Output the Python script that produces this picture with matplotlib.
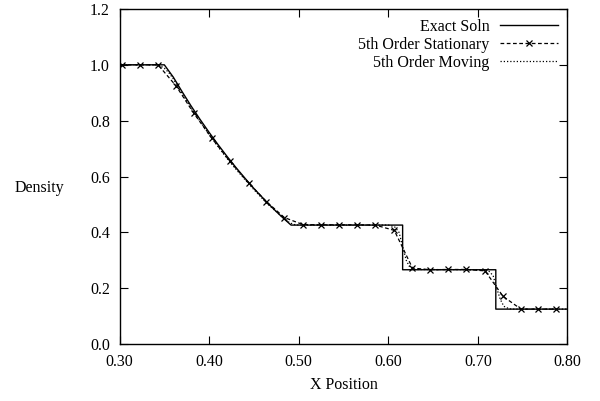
import matplotlib
matplotlib.use("Agg")
import matplotlib.pyplot as plt

plt.rcParams['font.family'] = ['Liberation Serif', 'DejaVu Serif']

# exact Riemann solution
exact_x = [0.30, 0.350, 0.36, 0.37, 0.38, 0.39, 0.40, 0.41, 0.42, 0.43, 0.44,
           0.45, 0.46, 0.47, 0.48, 0.49, 0.4915, 0.616, 0.616, 0.720, 0.720, 0.80]
exact_rho = [1.0, 1.0, 0.956, 0.903, 0.852, 0.804, 0.758, 0.714, 0.672, 0.632,
             0.594, 0.557, 0.523, 0.490, 0.459, 0.430, 0.426, 0.426, 0.266,
             0.266, 0.125, 0.125]

# 5th order stationary grid (points with markers)
stat_x = [0.3025, 0.3225, 0.343, 0.363, 0.383, 0.403, 0.423, 0.444, 0.464,
          0.484, 0.5045, 0.5246, 0.5447, 0.5651, 0.5855, 0.6067, 0.627, 0.647,
          0.667, 0.687, 0.708, 0.728, 0.748, 0.7675, 0.787]
stat_rho = [1.0, 1.0, 1.0, 0.925, 0.826, 0.737, 0.655, 0.577, 0.510, 0.453,
            0.428, 0.427, 0.427, 0.427, 0.426, 0.407, 0.272, 0.266, 0.267,
            0.267, 0.262, 0.171, 0.125, 0.125, 0.125]

# 5th order moving grid
mov_x = [0.30, 0.34, 0.345, 0.35, 0.355, 0.36, 0.37, 0.38, 0.39, 0.40, 0.41,
         0.42, 0.43, 0.44, 0.45, 0.46, 0.47, 0.48, 0.485, 0.49, 0.495, 0.50,
         0.60, 0.607, 0.612, 0.616, 0.62, 0.624, 0.63, 0.70, 0.712, 0.717,
         0.721, 0.725, 0.729, 0.735, 0.74, 0.80]
mov_rho = [1.0, 1.0, 0.997, 0.988, 0.972, 0.950, 0.896, 0.845, 0.797, 0.751,
           0.707, 0.665, 0.626, 0.589, 0.553, 0.519, 0.488, 0.460, 0.446,
           0.434, 0.428, 0.426, 0.426, 0.420, 0.400, 0.350, 0.300, 0.275,
           0.267, 0.266, 0.262, 0.245, 0.200, 0.160, 0.135, 0.126, 0.125, 0.125]

fig = plt.figure(figsize=(6.0, 4.01), dpi=100)
ax = fig.add_axes([0.1992, 0.1421, 0.7466, 0.8355])

ax.plot(exact_x, exact_rho, color="black", lw=1.0, label="Exact Soln")
ax.plot(stat_x, stat_rho, color="black", lw=0.9, dashes=(3, 2), marker="x",
        ms=4.5, mew=0.9, label="5th Order Stationary")
ax.plot(mov_x, mov_rho, color="black", lw=0.9, dashes=(1, 1.6),
        label="5th Order Moving")

ax.set_xlim(0.30, 0.80)
ax.set_ylim(0.0, 1.2)
ax.set_xticks([0.30, 0.40, 0.50, 0.60, 0.70, 0.80])
ax.set_xticklabels(["0.30", "0.40", "0.50", "0.60", "0.70", "0.80"])
ax.set_yticks([0.0, 0.2, 0.4, 0.6, 0.8, 1.0, 1.2])
ax.set_yticklabels(["0.0", "0.2", "0.4", "0.6", "0.8", "1.0", "1.2"])
ax.tick_params(direction="in", top=True, right=True, length=6, width=0.8,
               labelsize=11.5, pad=7)
for s in ax.spines.values():
    s.set_linewidth(1.0)

ax.set_xlabel("X Position", fontsize=11.5, labelpad=5)
fig.text(0.066, 0.531, "Density", fontsize=11.5, ha="center", va="center")

ax.legend(loc="upper right", frameon=False, markerfirst=False,
          alignment="right", fontsize=11.5, handlelength=3.6,
          handletextpad=0.65, labelspacing=0.12, borderaxespad=0.22)

fig.savefig("out.png", dpi=100)
